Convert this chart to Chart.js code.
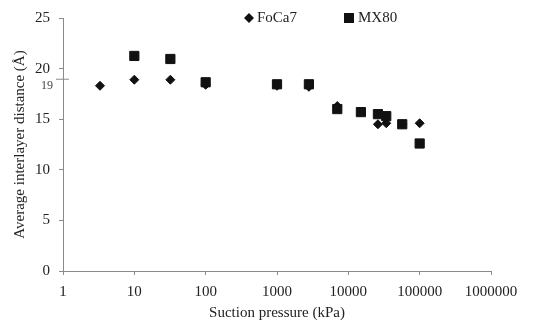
<!DOCTYPE html>
<html>
<head>
<meta charset="utf-8">
<script src="https://cdn.jsdelivr.net/npm/chart.js@4/dist/chart.umd.min.js"></script>
<style>
  html, body { margin: 0; padding: 0; background: #fff; }
</style>
</head>
<body>
<canvas id="myChart" width="533" height="327"></canvas>
<script>
// values
const foca7Pressure = [3.3, 10, 32, 100, 1000, 2800, 7000, 26000, 34000, 57000, 100000];
const foca7Distance = [18.3, 18.9, 18.9, 18.4, 18.3, 18.2, 16.3, 14.5, 14.6, 14.5, 14.6];

const mx80Pressure = [10, 32, 100, 1000, 2800, 7000, 15000, 26000, 34000, 57000, 100000];
const mx80Distance = [21.25, 20.95, 18.65, 18.45, 18.45, 16.0, 15.7, 15.5, 15.3, 14.5, 12.6];

const xTickValues = [1, 10, 100, 1000, 10000, 100000, 1000000];
const yTickValues = [0, 5, 10, 15, 20, 25];
const markedValue = 19;

const textFont = "'Liberation Serif', 'Times New Roman', serif";
const textColor = "#222";
const axisColor = "#8a8a8a";

function toPoints(xs, ys) {
    return xs.map((x, i) => ({ x: x, y: ys[i] }));
}

// legend + the extra "19" mark on the y axis
const extras = {
    id: "extras",
    afterDraw(chart) {
        const c = chart.ctx;
        const yScale = chart.scales.y;
        const yPix = yScale.getPixelForValue(markedValue);
        c.save();
        c.strokeStyle = axisColor;
        c.lineWidth = 1;
        c.beginPath();
        c.moveTo(56, yPix + 0.5);
        c.lineTo(69, yPix + 0.5);
        c.stroke();
        c.fillStyle = "#444";
        c.font = "12px " + textFont;
        c.textAlign = "right";
        c.textBaseline = "middle";
        c.fillText(String(markedValue), 53, yPix + 7);

        // legend
        c.fillStyle = "#111";
        c.beginPath();
        c.moveTo(249, 13);
        c.lineTo(254, 18);
        c.lineTo(249, 23);
        c.lineTo(244, 18);
        c.closePath();
        c.fill();
        c.fillRect(344, 13, 10, 10);
        c.fillStyle = textColor;
        c.font = "15px " + textFont;
        c.textAlign = "left";
        c.fillText(chart.data.datasets[0].label, 257, 18);
        c.fillText(chart.data.datasets[1].label, 358, 18);
        c.restore();
    }
};

const ctx = document.getElementById("myChart");
new Chart(ctx, {
    type: "scatter",
    data: {
        datasets: [
            {
                label: "FoCa7",
                data: toPoints(foca7Pressure, foca7Distance),
                pointStyle: "rectRot",
                pointRadius: 4.5,
                backgroundColor: "#111",
                borderColor: "#111",
                borderWidth: 1,
                order: 2
            },
            {
                label: "MX80",
                data: toPoints(mx80Pressure, mx80Distance),
                pointStyle: "rect",
                pointRadius: 6.5,
                backgroundColor: "#111",
                borderColor: "#111",
                borderWidth: 1,
                order: 1
            }
        ]
    },
    options: {
        responsive: false,
        animation: false,
        layout: { padding: { left: 0, right: 42, top: 13, bottom: 0 } },
        plugins: {
            legend: { display: false },
            tooltip: { enabled: false }
        },
        scales: {
            x: {
                type: "logarithmic",
                min: 1,
                max: 1000000,
                afterBuildTicks: (s) => { s.ticks = xTickValues.map((v) => ({ value: v })); },
                afterFit: (s) => { s.height = 56; },
                ticks: {
                    callback: (v) => String(v),
                    autoSkip: false,
                    maxRotation: 0,
                    padding: 8,
                    color: textColor,
                    font: { family: textFont, size: 15 }
                },
                grid: { drawOnChartArea: false, tickLength: 4, color: axisColor },
                border: { color: axisColor },
                title: {
                    display: true,
                    text: "Suction pressure (kPa)",
                    color: textColor,
                    font: { family: textFont, size: 15 },
                    padding: { top: 5, bottom: 5 }
                }
            },
            y: {
                min: 0,
                max: 25,
                afterBuildTicks: (s) => { s.ticks = yTickValues.map((v) => ({ value: v })); },
                afterFit: (s) => { s.width = 63; },
                ticks: {
                    padding: 9,
                    color: textColor,
                    font: { family: textFont, size: 15 }
                },
                grid: { drawOnChartArea: false, tickLength: 4, color: axisColor },
                border: { color: axisColor },
                title: {
                    display: true,
                    text: "Average interlayer distance (Å)",
                    color: textColor,
                    font: { family: textFont, size: 15 },
                    padding: { top: 11, bottom: 11 }
                }
            }
        }
    },
    plugins: [extras]
});
</script>
</body>
</html>
